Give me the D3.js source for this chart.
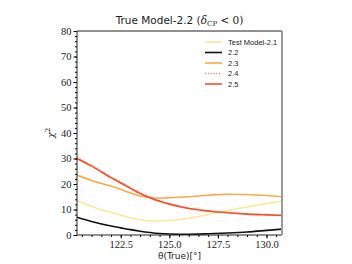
<!DOCTYPE html>
<html>
<head>
    <script src="https://cdnjs.cloudflare.com/ajax/libs/d3/7.6.1/d3.min.js"></script>
    <style>
        html, body { margin: 0; padding: 0; background: #fff; }
        svg { display: block; }
        .legend text { font-family: 'Liberation Sans', sans-serif; font-size: 7.5px; fill: #222; }
    </style>
</head>
<body>
    <div id="chart"></div>
    <script>
        // theta(True) sample points
        const thetaTrue = [120.25, 121, 122, 122.5, 123, 123.5, 124, 124.5, 125, 126, 127, 128, 129, 130, 130.8];

        const seriesNames = ['Test Model-2.1', '2.2', '2.3', '2.4', '2.5'];
        const chiModel21 = [13.5, 11.2, 8.8, 7.8, 6.8, 6.0, 5.6, 5.5, 5.7, 6.6, 8.0, 9.6, 11.0, 12.3, 13.3];
        const chiModel22 = [7.0, 5.3, 3.5, 2.8, 2.1, 1.5, 1.0, 0.6, 0.4, 0.3, 0.5, 0.8, 1.2, 1.8, 2.3];
        const chiModel23 = [23.5, 21.4, 19.1, 17.9, 16.5, 15.3, 14.7, 14.5, 14.6, 15.0, 15.6, 16.0, 15.9, 15.5, 15.0];
        const chiModel24 = [30.3, 27.3, 22.8, 20.8, 18.6, 16.6, 14.9, 13.5, 12.3, 10.6, 9.5, 8.8, 8.3, 8.0, 7.8];
        const chiModel25 = [30.0, 27.0, 22.5, 20.4, 18.3, 16.3, 14.6, 13.2, 12.1, 10.4, 9.4, 8.7, 8.2, 7.9, 7.7];

        const xTicks = [122.5, 125.0, 127.5, 130.0];
        const yTicks = [0, 10, 20, 30, 40, 50, 60, 70, 80];

        const colors = ['#fde79a', '#111111', '#fca94b', '#f7876a', '#f4502b'];
        const dashes = [null, null, null, '1.2,1.6', null];

        const width = 352, height = 264;
        const margin = { left: 77, right: 70, top: 31, bottom: 29 };

        const svg = d3.select('#chart').append('svg')
            .attr('width', width)
            .attr('height', height);

        const x = d3.scaleLinear()
            .domain([120.25, 130.8])
            .range([margin.left, width - margin.right]);

        const y = d3.scaleLinear()
            .domain([0, 80])
            .range([height - margin.bottom, margin.top]);

        const allSeries = [chiModel21, chiModel22, chiModel23, chiModel24, chiModel25];

        const line = d3.line()
            .x((d, i) => x(thetaTrue[i]))
            .y(d => y(d))
            .curve(d3.curveMonotoneX);

        svg.append('defs').append('clipPath').attr('id', 'clip')
            .append('rect')
            .attr('x', margin.left).attr('y', margin.top)
            .attr('width', width - margin.left - margin.right)
            .attr('height', height - margin.top - margin.bottom);

        const plot = svg.append('g').attr('clip-path', 'url(#clip)');
        allSeries.forEach((vals, i) => {
            plot.append('path')
                .attr('d', line(vals))
                .attr('fill', 'none')
                .attr('stroke', colors[i])
                .attr('stroke-width', 1.6)
                .attr('stroke-dasharray', dashes[i]);
        });

        // minor ticks
        const xMinor = d3.range(120.5, 130.8, 0.5);
        const yMinor = d3.range(0, 80.1, 2);

        svg.append('g')
            .attr('transform', `translate(0,${height - margin.bottom})`)
            .call(d3.axisBottom(x).tickValues(xMinor).tickSize(2).tickFormat(''))
            .call(g => g.select('.domain').remove());

        svg.append('g')
            .attr('transform', `translate(${margin.left},0)`)
            .call(d3.axisLeft(y).tickValues(yMinor).tickSize(2).tickFormat(''))
            .call(g => g.select('.domain').remove());

        svg.append('g')
            .attr('transform', `translate(0,${height - margin.bottom})`)
            .call(d3.axisBottom(x).tickValues(xTicks).tickSize(3.5).tickPadding(2).tickFormat(d3.format('.1f')))
            .attr('font-family', 'Liberation Serif, serif')
            .attr('font-size', 10.5)
            .call(g => g.select('.domain').remove())
            .call(g => g.selectAll('text').attr('fill', '#222'));

        svg.append('g')
            .attr('transform', `translate(${margin.left},0)`)
            .call(d3.axisLeft(y).tickValues(yTicks).tickSize(3.5).tickPadding(2))
            .attr('font-family', 'Liberation Serif, serif')
            .attr('font-size', 10.5)
            .call(g => g.select('.domain').remove())
            .call(g => g.selectAll('text').attr('fill', '#222'));

        // spines
        const x0 = margin.left, x1 = width - margin.right;
        const y0 = margin.top, y1 = height - margin.bottom;
        svg.append('line').attr('x1', x0).attr('x2', x1).attr('y1', y0).attr('y2', y0).attr('stroke', '#222').attr('stroke-width', 1);
        svg.append('line').attr('x1', x0).attr('x2', x1).attr('y1', y1).attr('y2', y1).attr('stroke', '#222').attr('stroke-width', 1);
        svg.append('line').attr('x1', x0).attr('x2', x0).attr('y1', y0).attr('y2', y1).attr('stroke', '#222').attr('stroke-width', 1);
        svg.append('line').attr('x1', x1).attr('x2', x1).attr('y1', y0).attr('y2', y1).attr('stroke', '#999').attr('stroke-width', 2);

        // title
        const title = svg.append('text')
            .attr('x', (x0 + x1) / 2)
            .attr('y', 24)
            .attr('text-anchor', 'middle')
            .style('font-family', 'DejaVu Sans, sans-serif')
            .style('font-size', '10.5px')
            .attr('fill', '#222');
        title.append('tspan').text('True Model-2.2 (');
        title.append('tspan').style('font-family', 'DejaVu Serif, serif').style('font-style', 'italic').text('δ');
        title.append('tspan').attr('dy', 2).style('font-family', 'DejaVu Serif, serif').style('font-size', '7px').text('CP');
        title.append('tspan').attr('dy', -2).style('font-family', 'DejaVu Serif, serif').text(' < 0)');

        // axis labels
        svg.append('text')
            .attr('x', (x0 + x1) / 2)
            .attr('y', 259)
            .attr('text-anchor', 'middle')
            .style('font-family', 'DejaVu Sans, sans-serif')
            .style('font-size', '9px')
            .attr('fill', '#222')
            .text('θ(True)[°]');

        const yl = svg.append('text')
            .attr('transform', `translate(54,${(y0 + y1) / 2}) rotate(-90)`)
            .attr('text-anchor', 'middle')
            .style('font-family', 'DejaVu Serif, serif')
            .style('font-size', '10px')
            .attr('fill', '#222');
        yl.append('tspan').style('font-style', 'italic').text('χ');
        yl.append('tspan').attr('dy', -4).style('font-size', '7px').text('2');

        // legend
        const legend = svg.append('g').attr('class', 'legend');
        seriesNames.forEach((name, i) => {
            const ly = 42 + i * 10.5;
            legend.append('line')
                .attr('x1', 205).attr('x2', 222)
                .attr('y1', ly).attr('y2', ly)
                .attr('stroke', colors[i])
                .attr('stroke-width', 1.6)
                .attr('stroke-dasharray', dashes[i]);
            legend.append('text')
                .attr('x', 228).attr('y', ly + 2.7)
                .text(name);
        });
    </script>
</body>
</html>
